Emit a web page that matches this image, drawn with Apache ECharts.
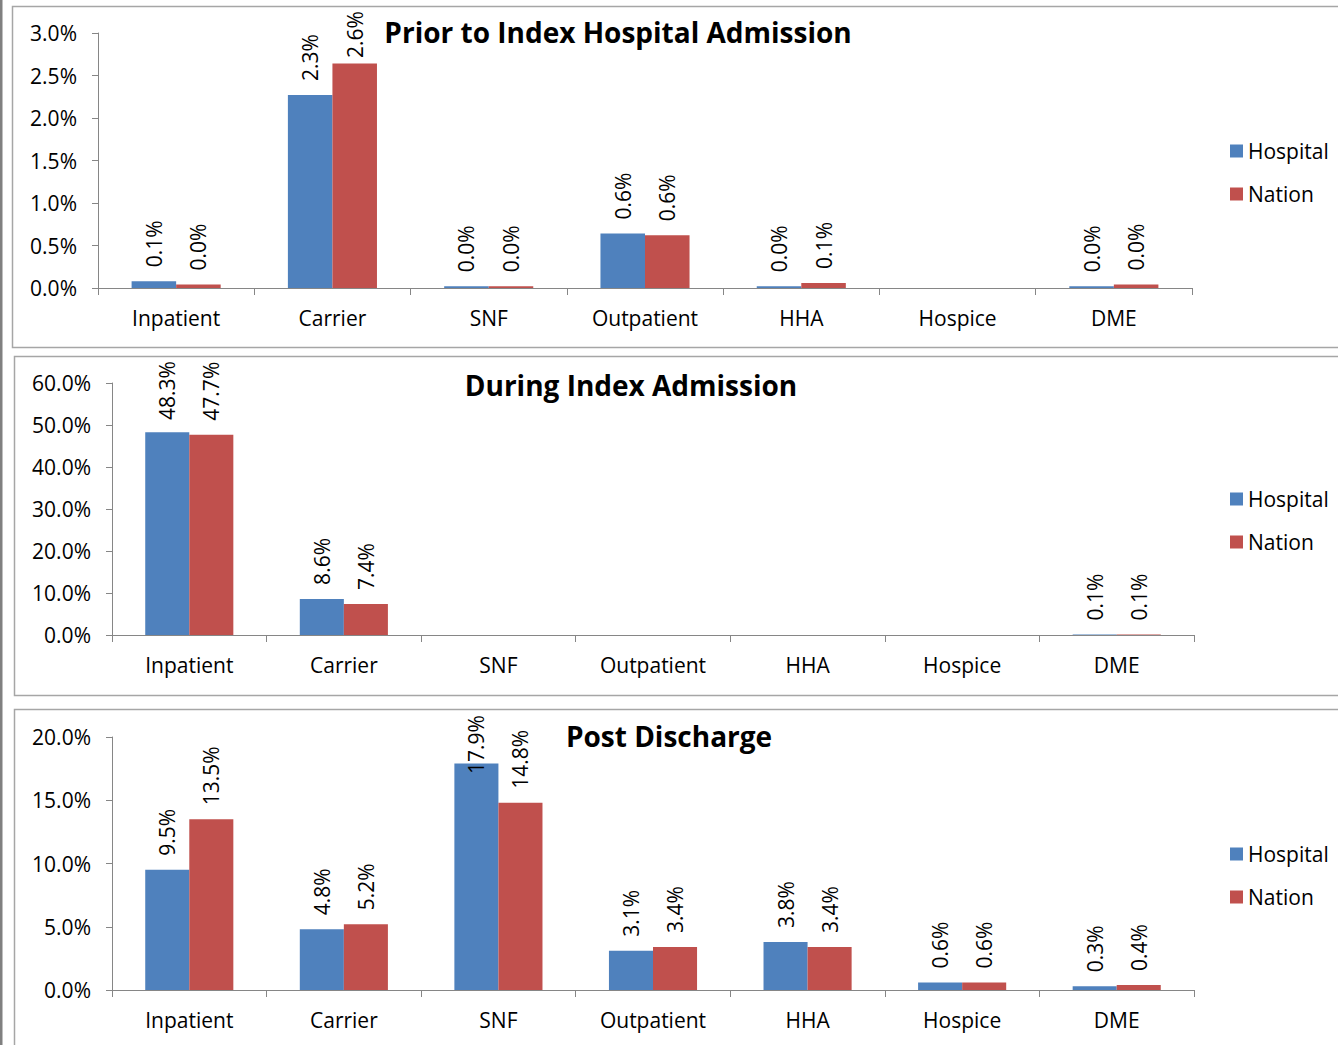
<!DOCTYPE html>
<html>
<head>
<meta charset="utf-8">
<title>Utilization</title>
<script src="https://cdn.jsdelivr.net/npm/echarts@6/dist/echarts.min.js"></script>
<style>
  html, body { margin: 0; padding: 0; background: #fff; }
  #main { width: 1338px; height: 1045px; }
</style>
</head>
<body>
<div id="main"></div>
<script>
// categories + values (percent)
const categories = ['Inpatient', 'Carrier', 'SNF', 'Outpatient', 'HHA', 'Hospice', 'DME'];
const seriesNames = ['Hospital', 'Nation'];

const priorHospital = [0.08, 2.27, 0.02, 0.64, 0.02, null, 0.02];
const priorNation   = [0.04, 2.64, 0.02, 0.62, 0.06, null, 0.04];

const duringHospital = [48.3, 8.6, null, null, null, null, 0.1];
const duringNation   = [47.7, 7.4, null, null, null, null, 0.1];

const postHospital = [9.5, 4.8, 17.9, 3.1, 3.8, 0.6, 0.3];
const postNation   = [13.5, 5.2, 14.8, 3.4, 3.4, 0.6, 0.4];

// y axis ticks: max / step per panel
const yMax  = [3, 60, 20];
const yStep = [0.5, 10, 5];

const titles = ['Prior to Index Hospital Admission', 'During Index Admission', 'Post Discharge'];

const FONT = 'Open Sans';
const BLUE = '#4F81BD';
const RED = '#C0504D';
const AXIS = '#868686';

// layout of each panel (page pixels)
const panels = [
    { hosp: priorHospital, nat: priorNation, left: 98, right: 1192, top: 33, height: 255, titleX: 618, titleY: 32, legendTop: 135.5, areaTop: 10 },
    { hosp: duringHospital, nat: duringNation, left: 112, right: 1194, top: 383, height: 252, titleX: 631, titleY: 385, legendTop: 483.5, areaTop: 360 },
    { hosp: postHospital, nat: postNation, left: 112, right: 1194, top: 737, height: 253, titleX: 669, titleY: 736, legendTop: 838.5, areaTop: 714 }
];

const fmt = v => v.toFixed(1) + '%';

// keep rotated labels inside the chart area, like excel does
function labelled(vals, p, max) {
    return vals.map(v => {
        if (v == null) return null;
        const barTop = p.top + p.height * (1 - v / max);
        const len = fmt(v).length * 12;
        const room = barTop - p.areaTop;
        let dist = 14;
        if (room < len + dist) dist = room - len;
        return { value: v, label: { distance: dist } };
    });
}

const grid = [], xAxis = [], yAxis = [], series = [], legend = [], graphic = [];

panels.forEach((p, i) => {
    grid.push({ left: p.left, right: 1338 - p.right, top: p.top, height: p.height });
    xAxis.push({
        type: 'category', gridIndex: i, data: categories,
        axisLine: { lineStyle: { color: AXIS, width: 1 } },
        axisTick: { show: true, length: 7, lineStyle: { color: AXIS } },
        axisLabel: { color: '#000', fontFamily: FONT, fontSize: 21, margin: 19 }
    });
    yAxis.push({
        type: 'value', gridIndex: i, min: 0, max: yMax[i], interval: yStep[i],
        splitLine: { show: false },
        axisLine: { show: true, lineStyle: { color: AXIS, width: 1 } },
        axisTick: { show: true, length: 6, lineStyle: { color: AXIS } },
        axisLabel: { color: '#000', fontFamily: FONT, fontSize: 21, margin: 21, formatter: v => fmt(v) }
    });
    [p.hosp, p.nat].forEach((vals, k) => {
        series.push({
            type: 'bar', name: seriesNames[k], xAxisIndex: i, yAxisIndex: i,
            data: labelled(vals, p, yMax[i]),
            barGap: '0%', barCategoryGap: '43%',
            itemStyle: { color: k === 0 ? BLUE : RED },
            label: {
                show: true, position: 'top', rotate: 90, align: 'left', verticalAlign: 'middle',
                color: '#000', fontFamily: FONT, fontSize: 21,
                formatter: q => fmt(q.value)
            }
        });
    });
    legend.push({
        orient: 'vertical', left: 1225, top: p.legendTop, itemGap: 22,
        itemWidth: 13, itemHeight: 13, icon: 'rect', data: seriesNames,
        textStyle: { fontFamily: FONT, fontSize: 21, color: '#000' }
    });
    graphic.push({
        type: 'text', x: p.titleX, y: p.titleY,
        style: { text: titles[i], font: 'bold 28px "' + FONT + '"', fill: '#000', textAlign: 'center', textVerticalAlign: 'middle' }
    });
});

// panel frames
graphic.push(
    { type: 'rect', shape: { x: 12.5, y: 6.5, width: 1340, height: 341 }, style: { fill: 'none', stroke: '#a6a6a6', lineWidth: 1.5 } },
    { type: 'rect', shape: { x: 14.5, y: 356.5, width: 1340, height: 339 }, style: { fill: 'none', stroke: '#a6a6a6', lineWidth: 1.5 } },
    { type: 'rect', shape: { x: 14.5, y: 709.5, width: 1340, height: 400 }, style: { fill: 'none', stroke: '#a6a6a6', lineWidth: 1.5 } },
    { type: 'rect', shape: { x: 0, y: 0, width: 2.5, height: 1045 }, style: { fill: '#808080' } }
);

const chart = echarts.init(document.getElementById('main'), null, { renderer: 'svg' });
chart.setOption({
    animation: false,
    grid: grid, xAxis: xAxis, yAxis: yAxis, series: series, legend: legend, graphic: graphic
});
</script>
</body>
</html>
